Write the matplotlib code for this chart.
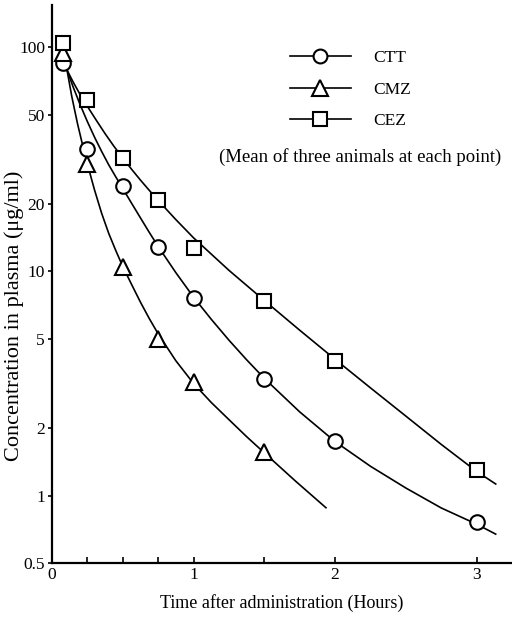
import matplotlib
matplotlib.use("Agg")
import matplotlib.pyplot as plt
from matplotlib.lines import Line2D

plt.rcParams['font.family'] = ['Liberation Serif', 'DejaVu Serif']

# Measured points (hours, ug/ml)
ctt_t = [0.08, 0.25, 0.5, 0.75, 1.0, 1.5, 2.0, 3.0]
ctt_y = [85, 35, 24, 12.8, 7.6, 3.3, 1.75, 0.76]
cmz_t = [0.08, 0.25, 0.5, 0.75, 1.0, 1.5]
cmz_y = [94, 30, 10.5, 5.0, 3.2, 1.56]
cez_t = [0.08, 0.25, 0.5, 0.75, 1.0, 1.5, 2.0, 3.0]
cez_y = [104, 58, 32, 20.8, 12.7, 7.4, 4.0, 1.3]

# Fitted curves
ctt_curve_t = [0.106, 0.15, 0.2, 0.25, 0.3, 0.35, 0.4, 0.45, 0.5, 0.5625, 0.625, 0.6875, 0.75,
               0.875, 1.0, 1.125, 1.25, 1.375, 1.5, 1.75, 2.0, 2.25, 2.5, 2.75, 3.0, 3.14]
ctt_curve_y = [79, 66.2, 55.1, 46.5, 39.7, 34.3, 29.9, 26.4, 23.4, 20.1, 17.3, 14.9, 12.9,
               9.86, 7.67, 6.11, 4.93, 4.03, 3.33, 2.36, 1.74, 1.35, 1.08, 0.88, 0.745, 0.67]
cmz_curve_t = [0.106, 0.14, 0.18, 0.22, 0.25, 0.3, 0.35, 0.4, 0.45, 0.5, 0.5625, 0.625, 0.6875,
               0.75, 0.875, 1.0, 1.125, 1.25, 1.375, 1.5, 1.72, 1.94]
cmz_curve_y = [79, 60.1, 45.6, 35.7, 30.1, 23.1, 18.2, 14.8, 12.4, 10.5, 8.73, 7.28, 6.15,
               5.26, 3.99, 3.16, 2.6, 2.18, 1.83, 1.55, 1.16, 0.877]
cez_curve_t = [0.106, 0.15, 0.2, 0.25, 0.3125, 0.375, 0.4375, 0.5, 0.5625, 0.625, 0.6875, 0.75,
               0.875, 1.0, 1.25, 1.5, 1.75, 2.0, 2.25, 2.5, 2.75, 3.0, 3.14]
cez_curve_y = [79, 69.7, 61.2, 54.4, 47.2, 41.1, 36.1, 32.0, 28.5, 25.5, 22.95, 20.7,
               17.0, 14.1, 10.1, 7.41, 5.46, 4.05, 3.02, 2.26, 1.69, 1.28, 1.12]

names = ['CTT', 'CMZ', 'CEZ']
markers = ['o', '^', 's']
marker_sizes = [10.5, 12, 10]

y_ticks = [0.5, 1, 2, 5, 10, 20, 50, 100]
y_tick_labels = ['0.5', '1', '2', '5', '10', '20', '50', '100']
x_ticks = [0, 1, 2, 3]
x_minor = [0.25, 0.5, 0.75, 1.5]

fig = plt.figure(figsize=(5.12, 6.17), dpi=100)
ax = fig.add_axes([52/512, 54/617, 460/512, 558/617])

lw = 1.2
for ct, cy in [(ctt_curve_t, ctt_curve_y), (cmz_curve_t, cmz_curve_y), (cez_curve_t, cez_curve_y)]:
    ax.plot(ct, cy, color='black', lw=lw, solid_capstyle='butt', solid_joinstyle='round', zorder=2)

for (t, y), m, ms in zip([(ctt_t, ctt_y), (cmz_t, cmz_y), (cez_t, cez_y)], markers, marker_sizes):
    ax.plot(t, y, linestyle='none', marker=m, ms=ms, mfc='white', mec='black', mew=1.5, zorder=3)

ax.set_yscale('log')
ax.set_xlim(0, 3.25)
ax.set_ylim(0.5, 154)
ax.set_yticks(y_ticks)
ax.set_yticklabels(y_tick_labels)
ax.yaxis.set_minor_locator(matplotlib.ticker.NullLocator())
ax.set_xticks(x_ticks)
ax.set_xticks(x_minor, minor=True)
ax.tick_params(axis='x', which='both', direction='in', length=4, width=1.2, labelsize=12.5, pad=3)
ax.tick_params(axis='y', which='both', direction='out', length=3, width=1.2, labelsize=12.5, pad=2)

for s in ['top', 'right']:
    ax.spines[s].set_visible(False)
for s in ['left', 'bottom']:
    ax.spines[s].set_linewidth(1.6)

ax.set_xlabel('Time after administration (Hours)', fontsize=13, labelpad=8)
fig.text(14/512, 1 - 316/617, 'Concentration in plasma (\u03bcg/ml)', rotation=90,
         ha='center', va='center', fontsize=16)

handles = [Line2D([], [], color='black', lw=lw, marker=m, ms=ms * 0.95, mfc='white', mec='black', mew=1.5)
           for m, ms in zip(markers, marker_sizes)]
ax.legend(handles, names, loc='upper left', bbox_to_anchor=(290/512, 1 - 50/617),
          bbox_transform=fig.transFigure, frameon=False, fontsize=12.5,
          handlelength=3.5, handletextpad=1.3, labelspacing=0.88, borderpad=0, borderaxespad=0)

fig.text(360/512, 1 - 157/617, '(Mean of three animals at each point)', ha='center', va='center', fontsize=13.5)

fig.savefig('out.png', dpi=100)
